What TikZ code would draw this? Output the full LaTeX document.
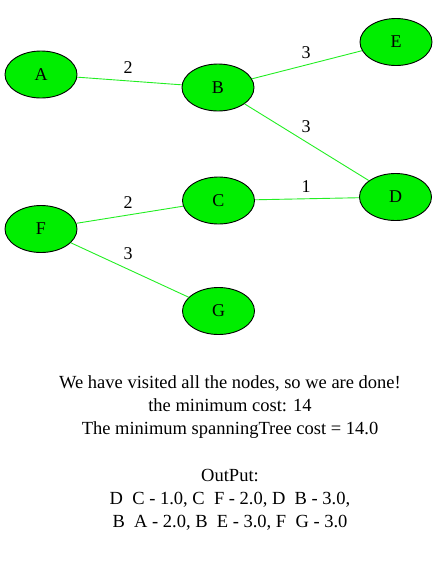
\documentclass[tikz,border=0pt]{standalone}
\usepackage{fontspec}
\setmainfont{Liberation Serif}
\usetikzlibrary{shapes.geometric}
\definecolor{nodegreen}{HTML}{00EE00}
\definecolor{edgegreen}{HTML}{22EE22}
\begin{document}
\begin{tikzpicture}[x=1pt,y=-1pt,
  vtx/.style={ellipse,draw=black,line width=0.9pt,fill=nodegreen,minimum width=72pt,minimum height=47pt,inner sep=0pt,font=\fontsize{18}{20}\selectfont},
  edge/.style={draw=edgegreen,line width=0.9pt},
  wlabel/.style={font=\fontsize{18}{20}\selectfont},
  txt/.style={align=center,font=\fontsize{18.5}{23}\selectfont}]
\useasboundingbox (0,0) rectangle (437,563);
\node[vtx] (A) at (41,74.5) {A};
\node[vtx] (B) at (218,87.5) {B};
\node[vtx] (E) at (396,42) {E};
\node[vtx] (D) at (395.5,197) {D};
\node[vtx] (C) at (218.5,200.5) {C};
\node[vtx] (F) at (41,229) {F};
\node[vtx] (G) at (218.5,311) {G};
\draw[edge] (A) -- (B);
\draw[edge] (B) -- (E);
\draw[edge] (B) -- (D);
\draw[edge] (C) -- (D);
\draw[edge] (F) -- (C);
\draw[edge] (F) -- (G);
\node[wlabel] (w1) at (128,68) {2};
\node[wlabel] (w2) at (306,53) {3};
\node[wlabel] (w3) at (306,127) {3};
\node[wlabel] (w4) at (306,187) {1};
\node[wlabel] (w5) at (128,203) {2};
\node[wlabel] (w6) at (128,254) {3};
\node[txt] (t1) at (230,407) {We have visited all the nodes, so we are done!\\the minimum cost: 14\\The minimum spanningTree cost = 14.0};
\node[txt] (t2) at (230,499.5) {OutPut:\\D\ \ C - 1.0, C\ \ F - 2.0, D\ \ B - 3.0,\\B\ \ A - 2.0, B\ \ E - 3.0, F\ \ G - 3.0};
\end{tikzpicture}
\end{document}
